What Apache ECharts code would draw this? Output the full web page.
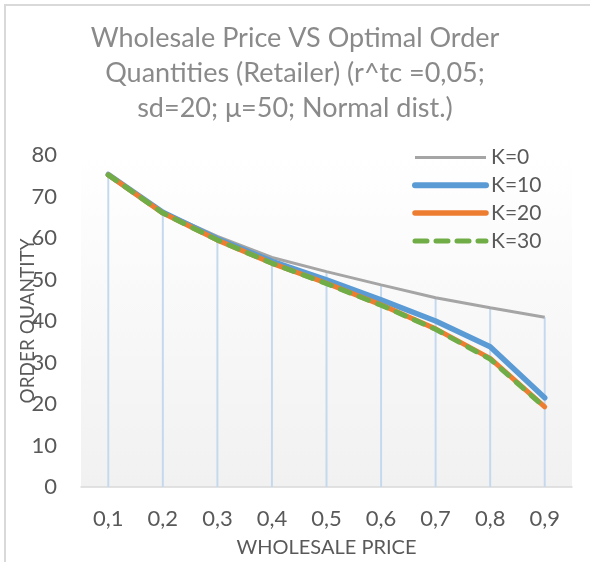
<!DOCTYPE html>
<html>
<head>
<meta charset="utf-8">
<script src="https://cdn.jsdelivr.net/npm/echarts@6/dist/echarts.min.js"></script>
<style>
  html, body { margin: 0; padding: 0; background: #ffffff; }
  #chart { width: 590px; height: 562px; }
</style>
</head>
<body>
<div id="chart"></div>
<script>
// Wholesale price levels (x axis categories)
const categories = ['0,1', '0,2', '0,3', '0,4', '0,5', '0,6', '0,7', '0,8', '0,9'];

// Optimal order quantity for each fixed cost K
const k0  = [75.3, 66.3, 60.4, 55.3, 51.9, 48.7, 45.6, 43.2, 40.9];
const k10 = [75.3, 66.2, 59.8, 54.4, 49.9, 45.1, 40.0, 33.8, 21.5];
const k20 = [75.2, 66.0, 59.5, 53.9, 49.1, 43.9, 38.1, 31.0, 19.3];
const k30 = [75.2, 66.0, 59.5, 53.9, 49.0, 43.8, 38.0, 30.8, 19.2];

// Y axis ticks
const yMin = 0, yMax = 80, yStep = 10;

// Drop lines reach the highest series value at each price
const dropTop = categories.map((_, i) => Math.max(k0[i], k10[i], k20[i], k30[i]));

const FONT = 'Lato, "Noto Sans", sans-serif';
const TEXT = '#595959';

const GRAY = '#a5a5a5', BLUE = '#5b9bd5', ORANGE = '#ed7d31', GREEN = '#70ad47';
const DASH = [10, 10];

const chart = echarts.init(document.getElementById('chart'), null, { renderer: 'canvas' });

chart.setOption({
  backgroundColor: '#ffffff',
  animation: false,
  graphic: [{
    type: 'rect',
    shape: { x: 5, y: 5, width: 600, height: 600 },
    style: { fill: 'none', stroke: '#d9d9d9', lineWidth: 2 },
    silent: true,
    z: -10
  }],
  title: {
    text: 'Wholesale Price VS Optimal Order\nQuantities (Retailer) (r^tc =0,05;\nsd=20; μ=50; Normal dist.)',
    left: 290,
    textAlign: 'center',
    top: 16,
    textStyle: {
      fontFamily: FONT,
      fontSize: 27,
      fontWeight: 'normal',
      color: '#8a8a8a',
      lineHeight: 35
    }
  },
  legend: {
    orient: 'vertical',
    left: 407,
    top: 142,
    itemWidth: 71,
    itemHeight: 14,
    itemGap: 6.8,
    itemStyle: { opacity: 0 },
    textStyle: { fontFamily: FONT, fontSize: 21, color: TEXT, lineHeight: 20 },
    data: [
      { name: 'K=0',  lineStyle: { color: GRAY, width: 3 } },
      { name: 'K=10', lineStyle: { color: BLUE, width: 6, cap: 'round' } },
      { name: 'K=20', lineStyle: { color: ORANGE, width: 5.5, cap: 'round' } },
      { name: 'K=30', lineStyle: { color: GREEN, width: 5, type: [12, 9], cap: 'round' } }
    ]
  },
  grid: {
    left: 81,
    right: 18,
    top: 155,
    bottom: 75,
    outerBoundsMode: 'none',
    containLabel: false,
    show: true,
    borderWidth: 0,
    backgroundColor: {
      type: 'linear', x: 0, y: 0, x2: 0, y2: 1,
      colorStops: [{ offset: 0, color: '#ffffff' }, { offset: 1, color: '#f1f1f1' }]
    }
  },
  xAxis: {
    type: 'category',
    data: categories,
    boundaryGap: true,
    name: 'WHOLESALE PRICE',
    nameLocation: 'middle',
    nameGap: 51,
    nameMoveOverlap: false,
    nameTextStyle: { fontFamily: FONT, fontSize: 20, color: TEXT },
    axisLine: { show: true, lineStyle: { color: '#d9d9d9', width: 1.5 } },
    axisTick: { show: false },
    axisLabel: { fontFamily: FONT, fontSize: 22, color: TEXT, margin: 21 },
    splitLine: { show: false }
  },
  yAxis: {
    type: 'value',
    min: yMin,
    max: yMax,
    interval: yStep,
    name: 'ORDER QUANTITY',
    nameLocation: 'middle',
    nameGap: 44,
    nameMoveOverlap: false,
    nameTextStyle: { fontFamily: FONT, fontSize: 19, color: TEXT },
    axisLine: { show: false },
    axisTick: { show: false },
    axisLabel: { fontFamily: FONT, fontSize: 22, color: TEXT, margin: 24 },
    splitLine: { show: false }
  },
  series: [
    {
      name: 'drop',
      type: 'bar',
      data: dropTop,
      barWidth: 2,
      itemStyle: { color: '#c5d9ee' },
      silent: true,
      z: 1
    },
    {
      name: 'K=0',
      type: 'line',
      data: k0,
      symbol: 'none',
      color: GRAY,
      lineStyle: { color: GRAY, width: 3 },
      z: 2
    },
    {
      name: 'K=10',
      type: 'line',
      data: k10,
      symbol: 'none',
      color: BLUE,
      lineStyle: { color: BLUE, width: 5.5, cap: 'round' },
      z: 3
    },
    {
      name: 'K=20',
      type: 'line',
      data: k20,
      symbol: 'none',
      color: ORANGE,
      lineStyle: { color: ORANGE, width: 5, cap: 'round' },
      z: 4
    },
    {
      name: 'K=30',
      type: 'line',
      data: k30,
      symbol: 'none',
      color: GREEN,
      lineStyle: { color: GREEN, width: 5, type: DASH, cap: 'round' },
      z: 5
    }
  ]
});
</script>
</body>
</html>
